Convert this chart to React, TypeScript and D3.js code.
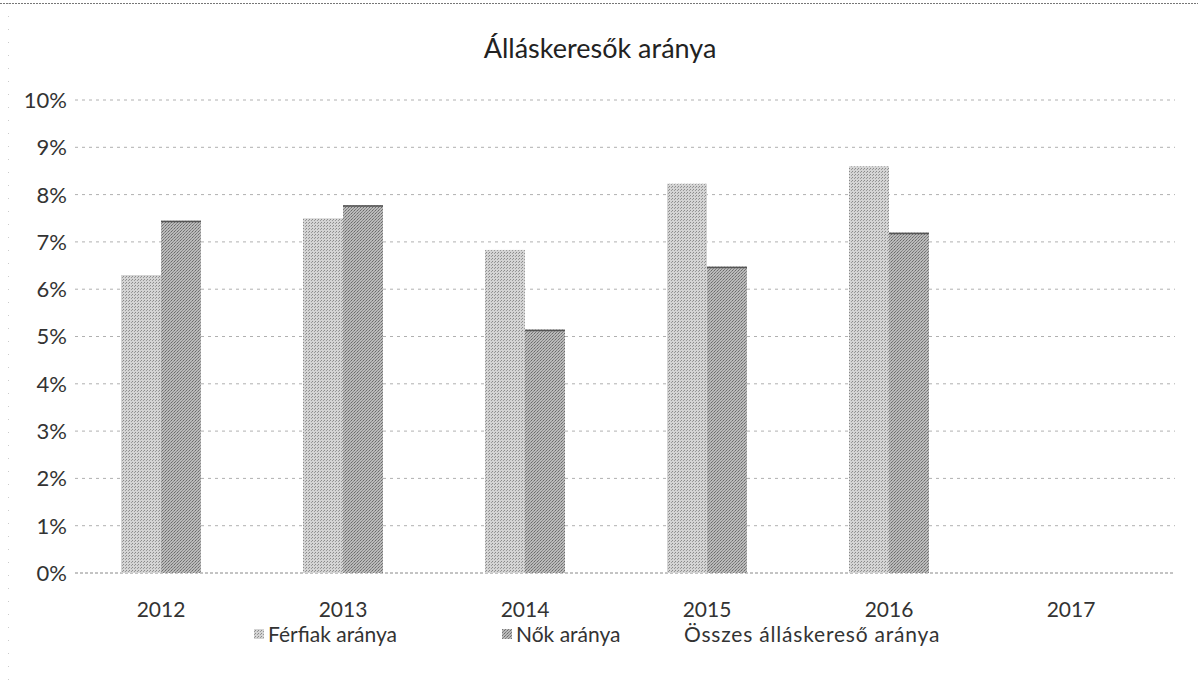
import React from "react";
import * as d3 from "d3";

const years = ["2012", "2013", "2014", "2015", "2016", "2017"];
const ferfiak = [6.3, 7.5, 6.83, 8.23, 8.6, null];
const nok = [7.45, 7.78, 5.15, 6.48, 7.2, null];
const yTicks = [0, 1, 2, 3, 4, 5, 6, 7, 8, 9, 10];
const seriesNames = ["Férfiak aránya", "Nők aránya", "Összes álláskereső aránya"];

const W = 1198;
const H = 691;
const FONT = "Lato, 'Open Sans', sans-serif";

export default function App() {
  const x = d3.scaleBand<string>().domain(years).range([70, 1162]).padding(0);
  const y = d3.scaleLinear().domain([0, 10]).range([573, 100]);
  const barW = 40;
  const inner = d3.scaleBand<string>().domain(["f", "n"]).range([-barW, barW]).padding(0);
  const gridX0 = 75;
  const gridX1 = 1175;

  return (
    <svg width={W} height={H} style={{ position: "absolute", left: 0, top: 0, background: "#fff" }}>
      <defs>
        <pattern id="pf" width="3" height="3" patternUnits="userSpaceOnUse">
          <rect width="3" height="3" fill="#d4d4d4" />
          <rect x="0" y="0" width="1" height="1" fill="#8a8a8a" />
          <rect x="2" y="1" width="1" height="1" fill="#9a9a9a" />
        </pattern>
        <pattern id="pn" width="3" height="3" patternUnits="userSpaceOnUse">
          <rect width="3" height="3" fill="#bababa" />
          <rect x="0" y="0" width="1" height="1" fill="#6a6a6a" />
          <rect x="1" y="2" width="1" height="1" fill="#7a7a7a" />
          <rect x="2" y="1" width="1" height="1" fill="#8a8a8a" />
        </pattern>
      </defs>
      {/* border */}
      <line x1={0} x2={W} y1={3.5} y2={3.5} stroke="#777" strokeDasharray="2,1" />
      <line x1={8.5} x2={8.5} y1={3} y2={H} stroke="#ccc" strokeDasharray="1,12" />

      <text x={600} y={58} textAnchor="middle" fontFamily={FONT} fontSize={27} fill="#222">
        Álláskeresők aránya
      </text>

      {yTicks.map((t) => (
        <g key={t}>
          <line
            x1={gridX0}
            x2={gridX1}
            y1={y(t)}
            y2={y(t)}
            stroke={t === 0 ? "#888" : "#b0b0b0"}
            strokeDasharray={t === 0 ? "3,2" : "3,4"}
            strokeWidth={1}
          />
          <text
            x={67}
            y={y(t)}
            dy="0.36em"
            textAnchor="end"
            fontFamily={FONT}
            fontSize={22}
            fill="#333"
          >
            {t}%
          </text>
        </g>
      ))}

      {years.map((yr, i) => {
        const c = (x(yr) as number) + x.bandwidth() / 2;
        const f = ferfiak[i];
        const n = nok[i];
        return (
          <g key={yr}>
            {f != null && (
              <rect
                x={c + (inner("f") as number)}
                y={y(f)}
                width={inner.bandwidth()}
                height={y(0) - y(f)}
                fill="url(#pf)"
              />
            )}
            {n != null && (
              <g>
                <rect
                  x={c + (inner("n") as number)}
                  y={y(n)}
                  width={inner.bandwidth()}
                  height={y(0) - y(n)}
                  fill="url(#pn)"
                />
                <line
                  x1={c + (inner("n") as number)}
                  x2={c + (inner("n") as number) + inner.bandwidth()}
                  y1={y(n) + 1}
                  y2={y(n) + 1}
                  stroke="#555"
                  strokeWidth={1.5}
                />
              </g>
            )}
            <text x={c} y={617} textAnchor="middle" fontFamily={FONT} fontSize={21} fill="#333">
              {yr}
            </text>
          </g>
        );
      })}

      {/* legend */}
      <g fontFamily={FONT} fontSize={21} fill="#333">
        <rect x={254} y={629} width={10} height={10} fill="url(#pf)" />
        <text x={268} y={642}>{seriesNames[0]}</text>
        <rect x={502} y={629} width={10} height={10} fill="url(#pn)" />
        <text x={516} y={642}>{seriesNames[1]}</text>
        <text x={684} y={642} letterSpacing={0.8}>{seriesNames[2]}</text>
      </g>
    </svg>
  );
}
